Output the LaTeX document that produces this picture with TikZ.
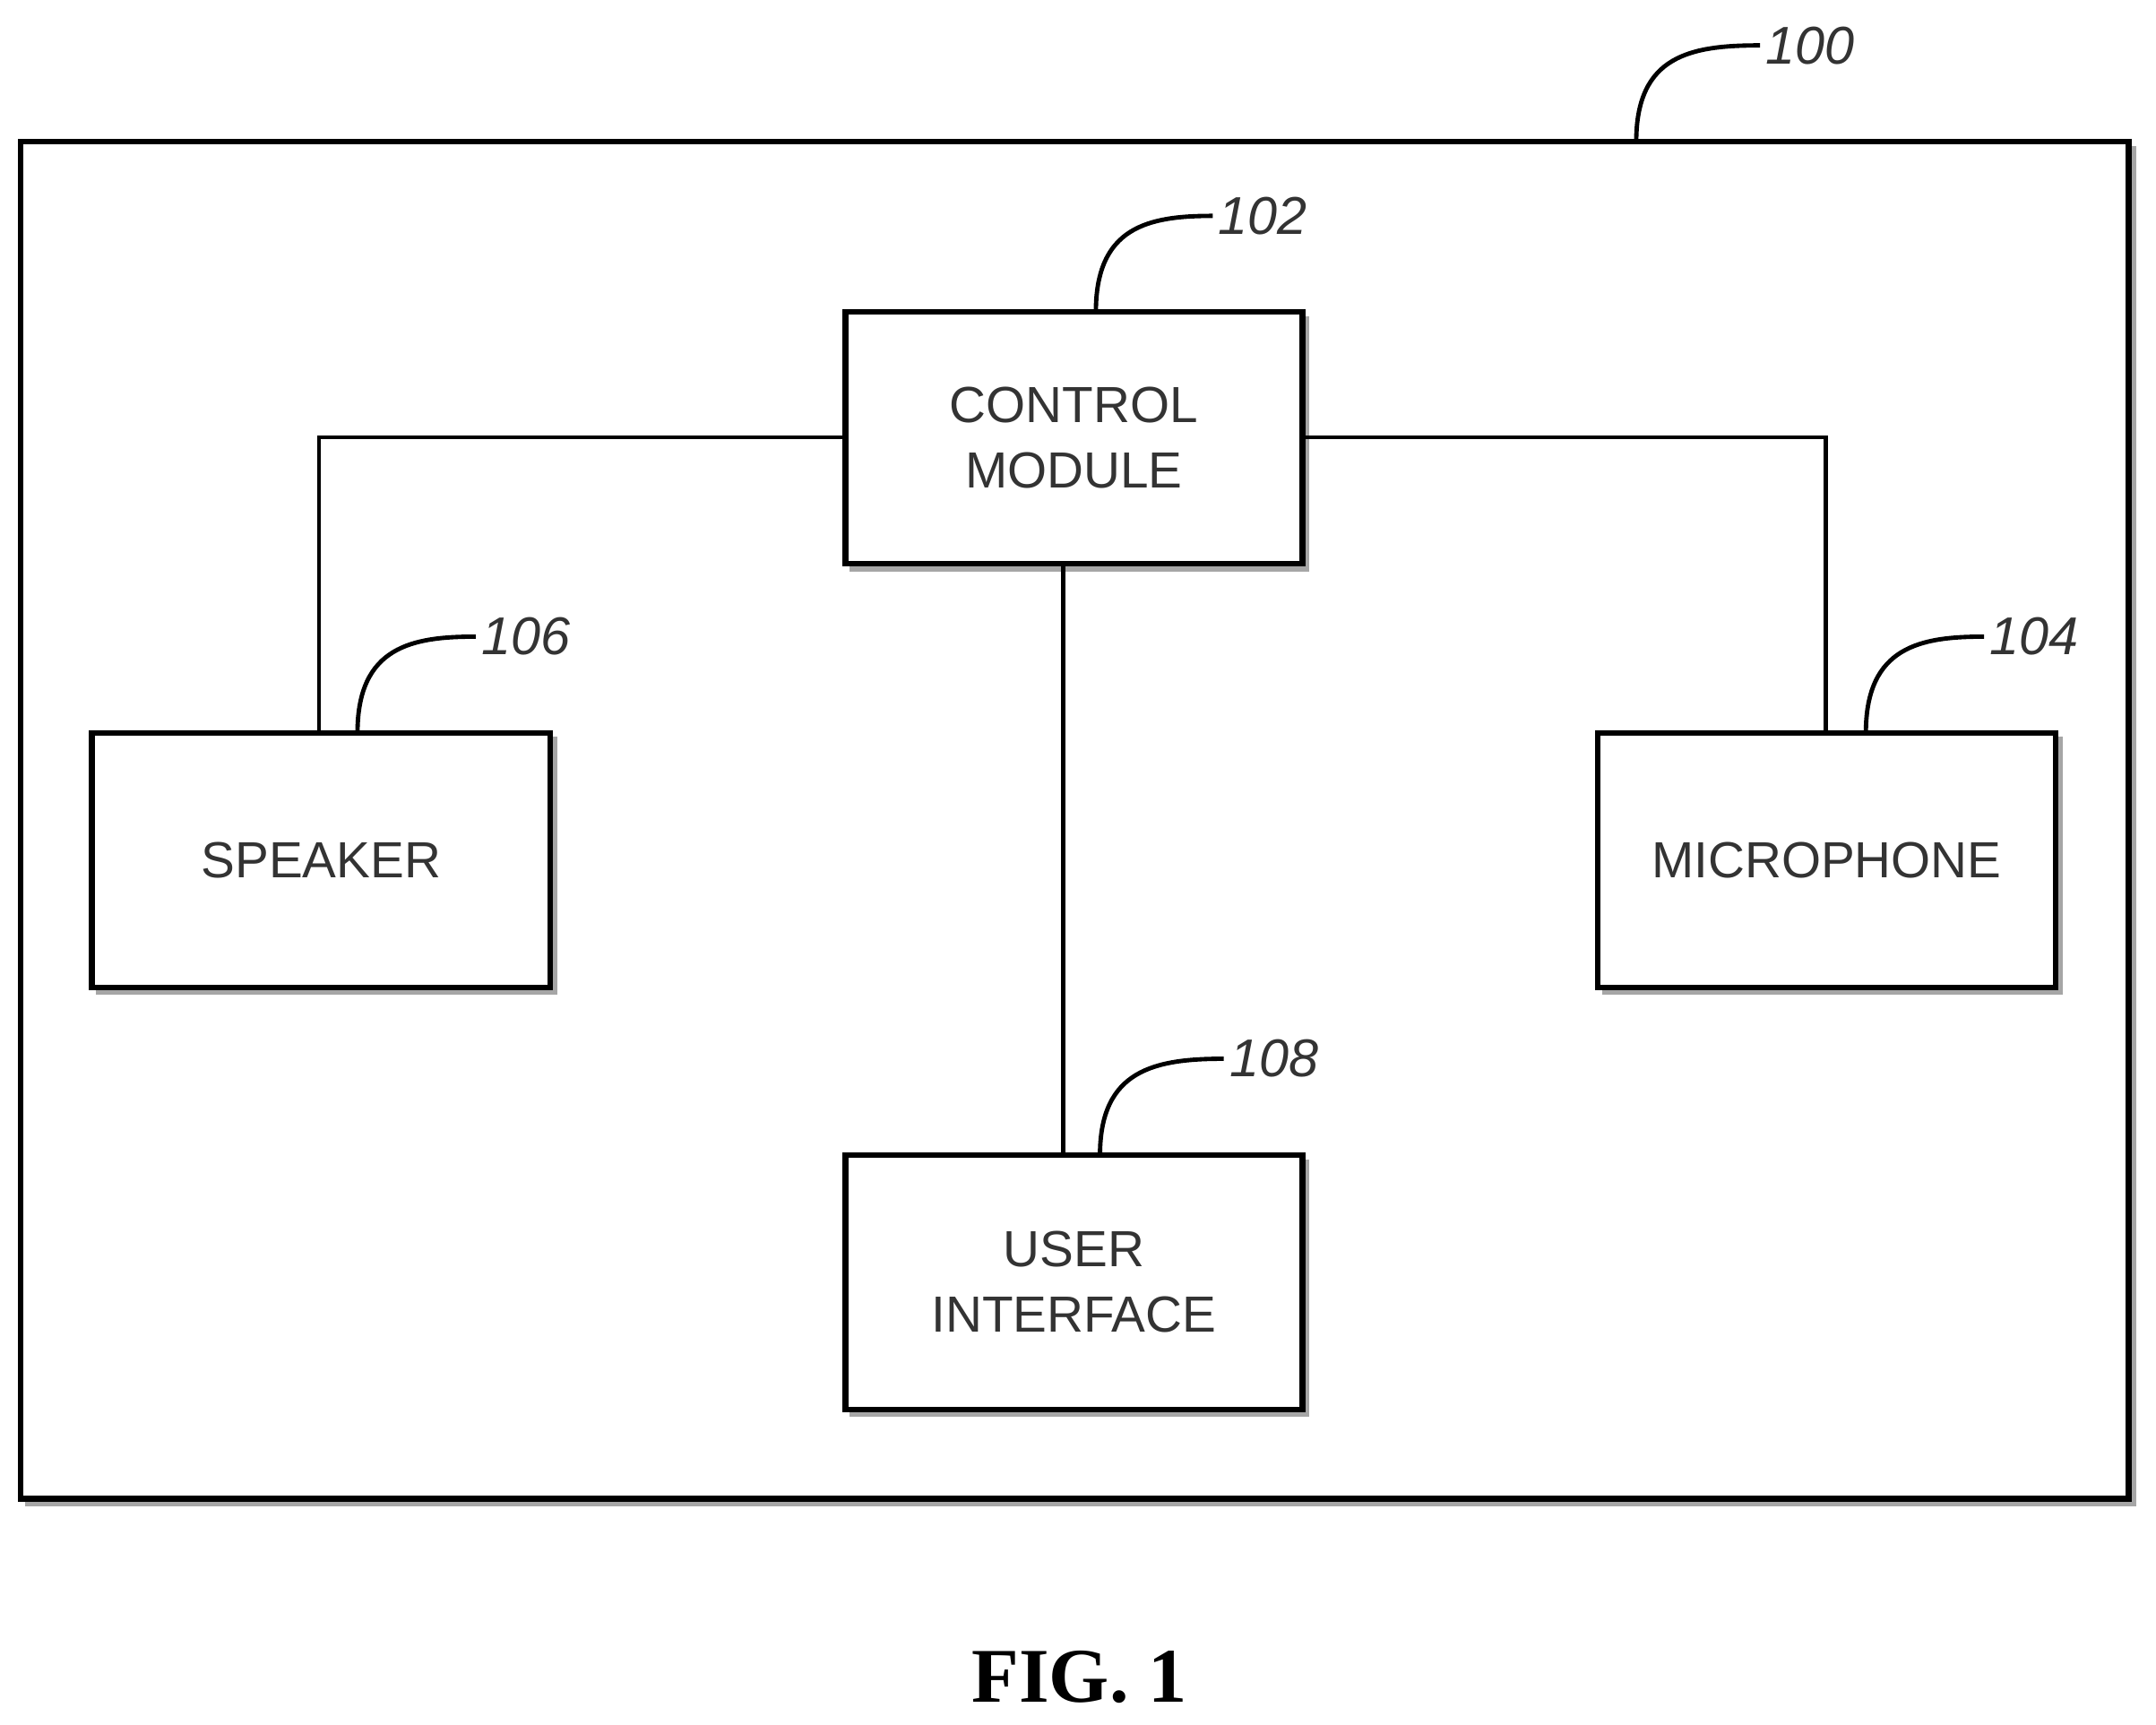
\documentclass[tikz,border=0pt]{standalone}
\usepackage{fontspec}
\setmainfont{Liberation Sans}
\newfontfamily\figfont{Liberation Serif}
\begin{document}
\begin{tikzpicture}[x=0.01cm,y=-0.01cm,
  box/.style={draw,line width=1.2pt,inner sep=0pt,align=center,font=\fontsize{10.5}{13.5}\selectfont,text=black!80},
  shad/.style={draw,line width=1.4pt,gray!70},
  conn/.style={line width=0.9pt},
  lead/.style={line width=0.9pt},
  lab/.style={font=\fontsize{11}{13}\selectfont\itshape,anchor=west,inner sep=1pt,text=black!80}]
\useasboundingbox (0,0) rectangle (1568,1254);
% outer
\draw[shad] (18,1093) -- (1551,1093) -- (1551,106);
\draw[line width=1.2pt] (15,103) rectangle (1548,1090);
\coordinate (o100) at (1190,103);
% boxes shadows
\foreach \xa/\ya/\xb/\yb in {615/227/947/410, 67/533/400/718, 1162/533/1495/718, 615/840/947/1025}{
  \draw[shad] (\xa+3,\yb+3) -- (\xb+3,\yb+3) -- (\xb+3,\ya+3);
}
\node[box,minimum width=3.32cm,minimum height=1.83cm] (cm) at (781,318.5) {CONTROL\\MODULE};
\node[box,minimum width=3.33cm,minimum height=1.85cm] (sp) at (233.5,625.5) {SPEAKER};
\node[box,minimum width=3.33cm,minimum height=1.85cm] (mic) at (1328.5,625.5) {MICROPHONE};
\node[box,minimum width=3.32cm,minimum height=1.85cm] (ui) at (781,932.5) {USER\\INTERFACE};
% connectors
\coordinate (cl) at (232,318); \coordinate (cr) at (1328,318);
\draw[conn] (cm.west |- cl) -- (cl) -- (cl |- sp.north);
\draw[conn] (cm.east |- cr) -- (cr) -- (cr |- mic.north);
\coordinate (cv) at (773,410);
\draw[conn] (cv |- cm.south) -- (cv |- ui.north);
% reference labels
\node[lab] (l100) at (1280,33) {100};
\node[lab] (l102) at (882,157) {102};
\node[lab] (l106) at (346,463) {106};
\node[lab] (l104) at (1443,463) {104};
\node[lab] (l108) at (890,770) {108};
\draw[lead] (o100) .. controls (1190,40) and (1230,33) .. (l100.west);
\draw[lead] (797,227) .. controls (797,165) and (835,157) .. (l102.west);
\draw[lead] (260,533) .. controls (260,470) and (300,463) .. (l106.west);
\draw[lead] (1357,533) .. controls (1357,470) and (1397,463) .. (l104.west);
\draw[lead] (800,840) .. controls (800,778) and (840,770) .. (l108.west);
\node[font=\figfont\fontsize{16}{19}\selectfont\bfseries] (fig) at (785,1220) {FIG. 1};
\end{tikzpicture}
\end{document}
